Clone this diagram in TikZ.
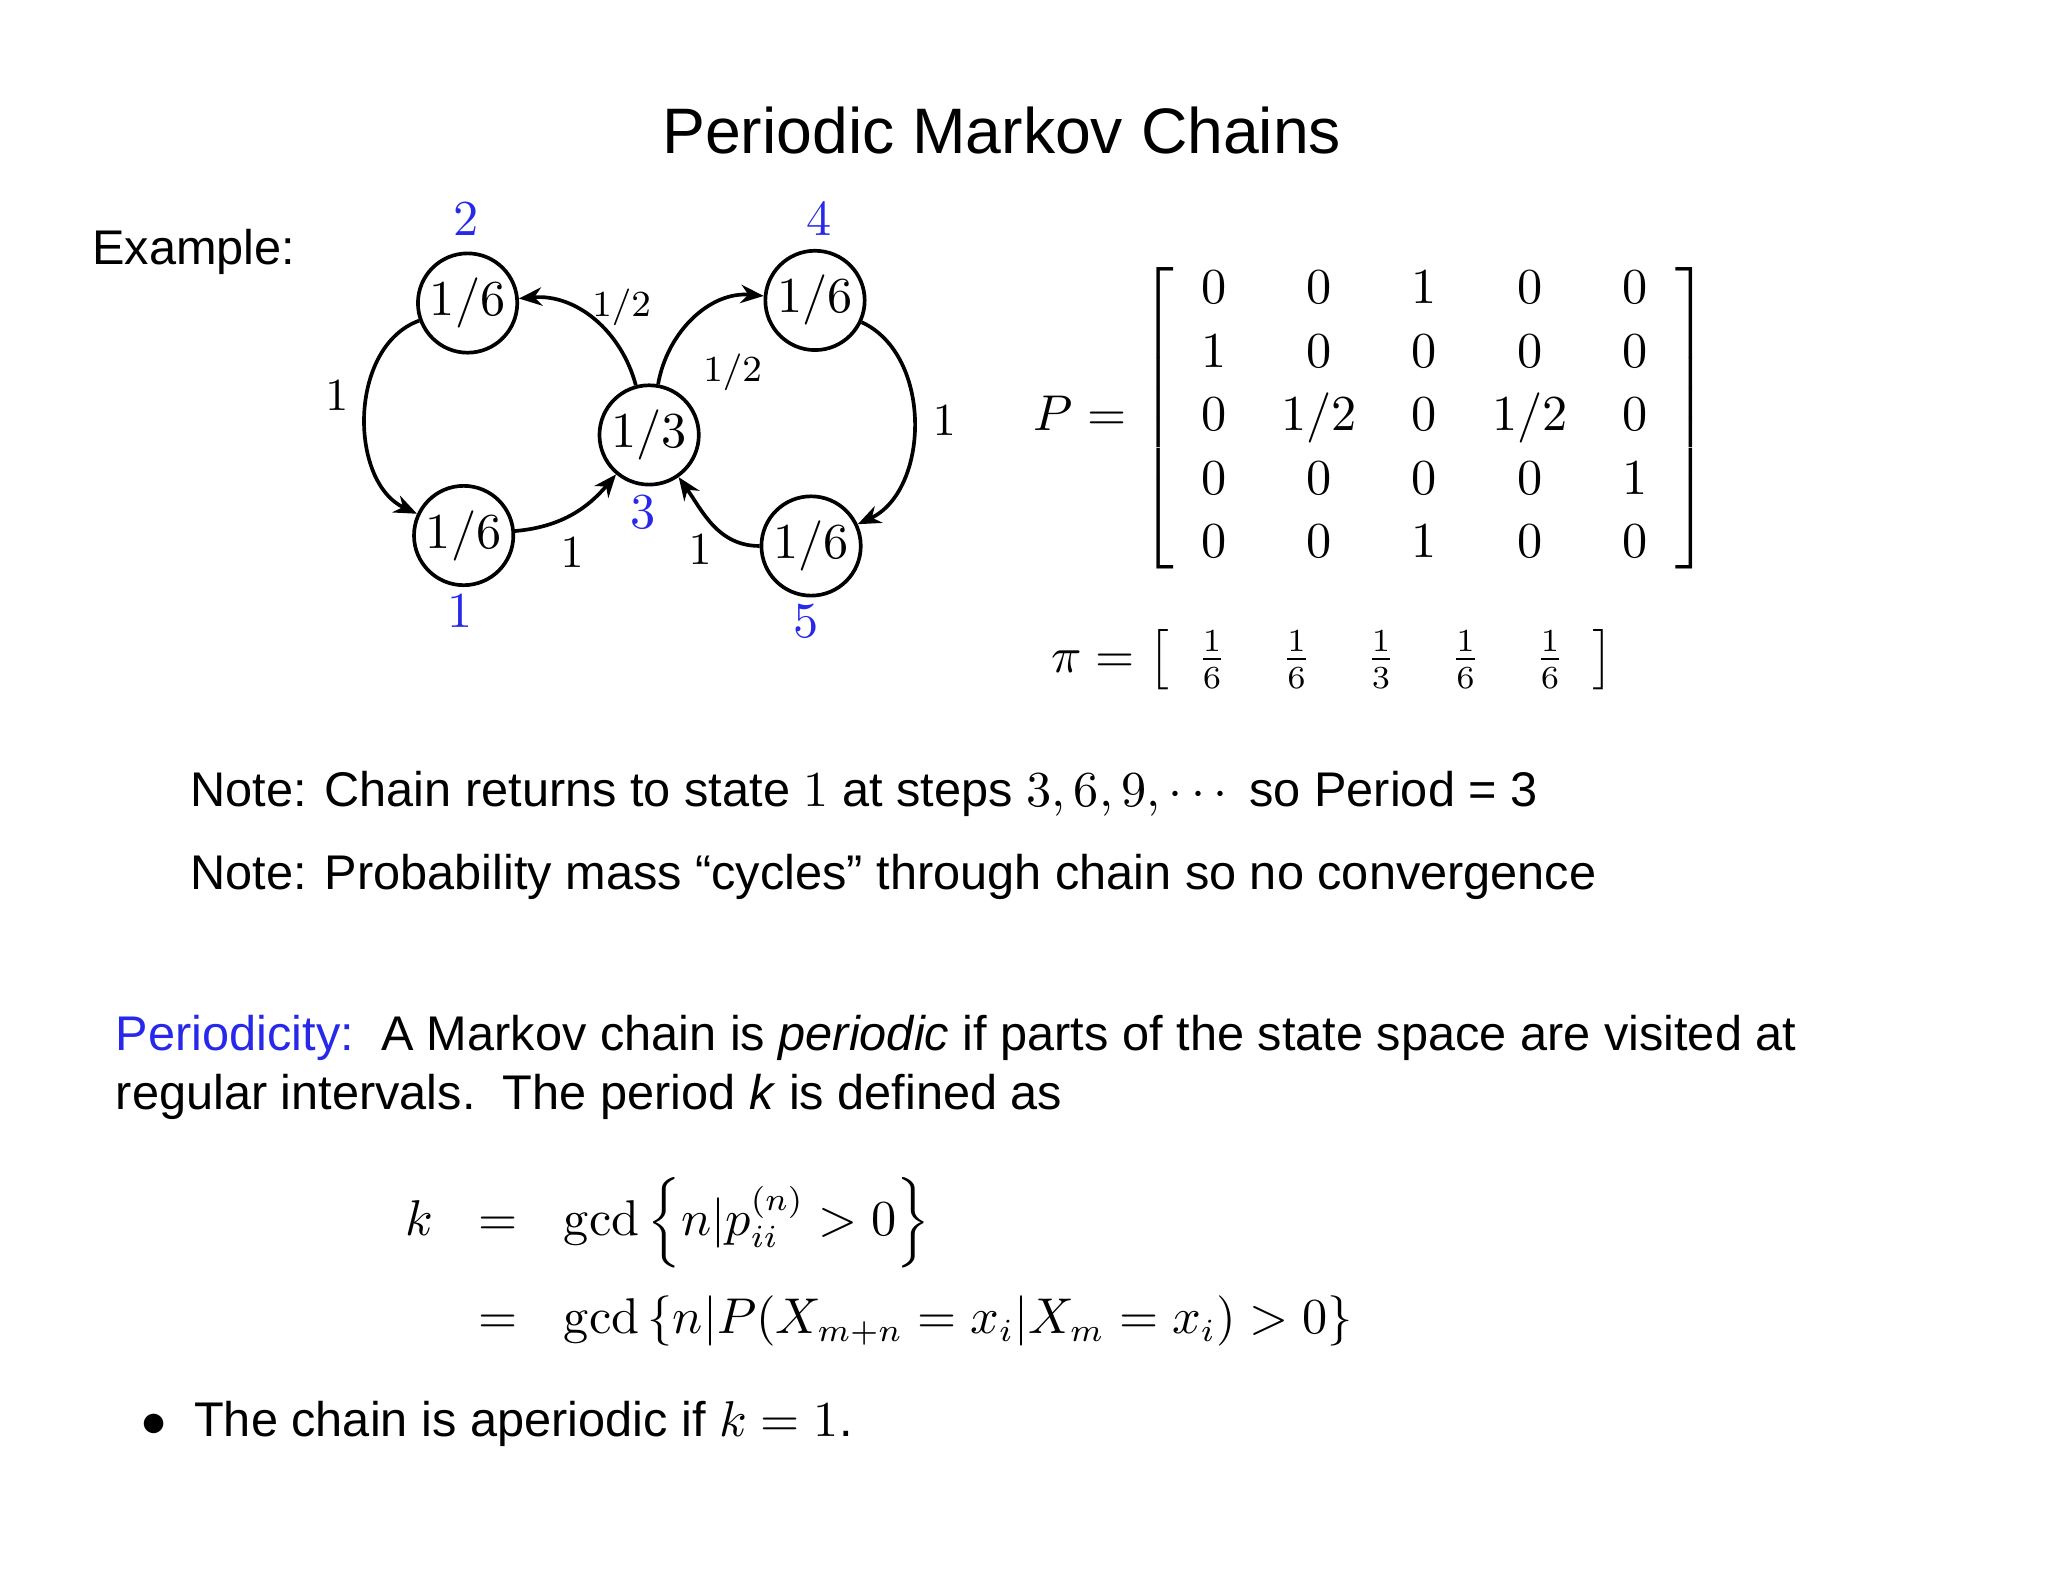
\documentclass[tikz,border=0pt]{standalone}
\usepackage{amsmath}
\usepackage[no-math]{fontspec}
\setmainfont{Liberation Sans}
\usetikzlibrary{arrows.meta}
\definecolor{myblue}{RGB}{40,40,235}
\begin{document}
\begin{tikzpicture}[x=0.01cm,y=-0.01cm,
  st/.style={circle,draw,line width=0.8pt,minimum size=0.76cm,inner sep=0pt,font=\fontsize{11}{13}\selectfont},
  lab/.style={text=myblue,font=\fontsize{11}{13}\selectfont},
  el/.style={font=\fontsize{10}{12}\selectfont},
  ar/.style={-{Stealth[length=5pt,width=4pt]},line width=0.8pt},
  txt/.style={anchor=west,inner sep=0pt,font=\fontsize{10.6}{12}\selectfont}]
\useasboundingbox (0,0) rectangle (1568,1211);
\node[font=\fontsize{14}{16}\selectfont] (title) at (767,100) {Periodic Markov Chains};
\node[txt] (ex) at (70,193) {Example:};
\node[st] (n1) at (355,410) {$1/6$};
\node[st] (n2) at (358,232) {$1/6$};
\node[st] (n3) at (497,333) {$1/3$};
\node[st] (n4) at (624,230) {$1/6$};
\node[st] (n5) at (621,418) {$1/6$};
\node[lab] (l1) at (352,468) {$1$};
\node[lab] (l2) at (357,168) {$2$};
\node[lab] (l3) at (492,392) {$3$};
\node[lab] (l4) at (627,168) {$4$};
\node[lab] (l5) at (617,476) {$5$};
\draw[ar] (n2) to[out=200,in=155] (n1);
\node[el] (e21) at (258,303) {$1$};
\draw[ar] (n1) to[out=5,in=230] (n3);
\node[el] (e13) at (438,423) {$1$};
\draw[ar] (n3) to[out=105,in=5] (n2);
\node[el,font=\fontsize{8}{10}\selectfont] (e32) at (476,235) {$1/2$};
\draw[ar] (n3) to[out=80,in=175] (n4);
\node[el,font=\fontsize{8}{10}\selectfont] (e34) at (561,285) {$1/2$};
\draw[ar] (n4) to[out=-25,in=25] (n5);
\node[el] (e45) at (723,322) {$1$};
\draw[ar] (n5) to[out=180,in=-55] (n3);
\node[el] (e53) at (536,421) {$1$};
\node[font=\fontsize{10.5}{12}\selectfont] (P) at (1050,320) {$P=\renewcommand{\arraystretch}{1.15}\setlength{\arraycolsep}{6pt}\left[\begin{array}{ccccc}
0&0&1&0&0\\ 1&0&0&0&0\\ 0&1/2&0&1/2&0\\ 0&0&0&0&1\\ 0&0&1&0&0\end{array}\right]$};
\node[font=\fontsize{10.5}{12}\selectfont] (pi) at (1020,505) {$\pi=\setlength{\arraycolsep}{6pt}\left[\begin{array}{ccccc}\frac16&\frac16&\frac13&\frac16&\frac16\end{array}\right]$};
\node[txt] (note1) at (145,608) {Note: Chain returns to state $1$ at steps $3,6,9,\cdots$ so Period = 3};
\node[txt] (note2) at (145,671) {Note: Probability mass “cycles” through chain so no convergence};
\node[txt] (per1) at (88,795) {\textcolor{myblue}{Periodicity:}\ \ A Markov chain is \textit{periodic} if parts of the state space are visited at};
\node[txt] (per2) at (88,840) {regular intervals.\ \ The period \textit{k} is defined as};
\node[anchor=north west,inner sep=0pt,font=\fontsize{10.5}{12}\selectfont] (eq) at (292,895) {$\setlength{\arraycolsep}{5pt}\renewcommand{\arraystretch}{1.7}\begin{array}{rcl}
k&=&\gcd\left\{n|p_{ii}^{(n)}>0\right\}\\
&=&\gcd\left\{n|P(X_{m+n}=x_i|X_m=x_i)>0\right\}\end{array}$};
\node[txt] (bul) at (108,1090) {$\bullet$\ \ The chain is aperiodic if $k=1$.};
\end{tikzpicture}
\end{document}
